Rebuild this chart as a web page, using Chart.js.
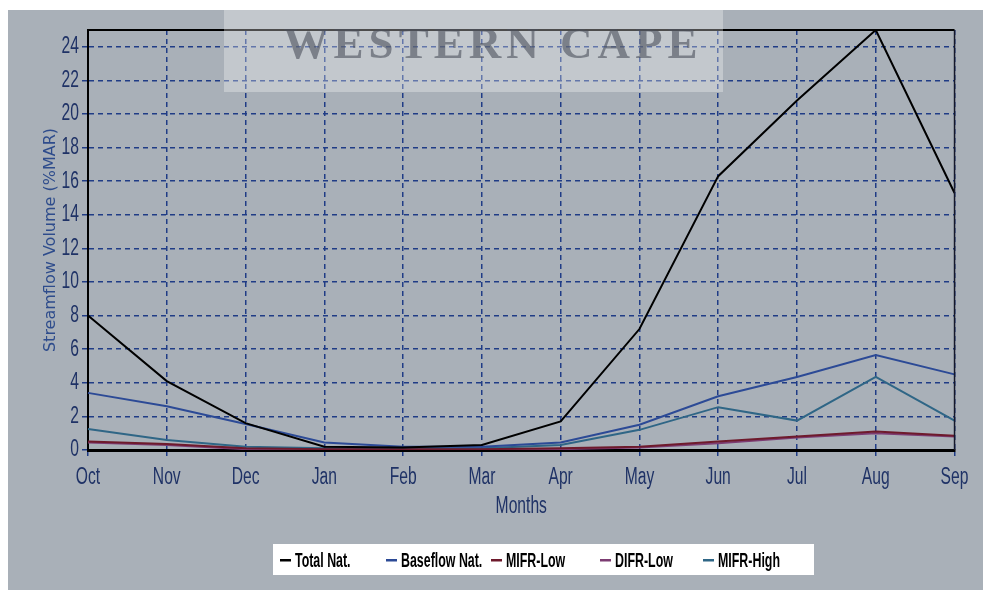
<!DOCTYPE html>
<html>
<head>
<meta charset="utf-8">
<script src="https://cdn.jsdelivr.net/npm/chart.js@4.4.1/dist/chart.umd.min.js"></script>
<style>
  html, body { margin: 0; padding: 0; background: #ffffff; }
  #c { display: block; }
</style>
</head>
<body>
<canvas id="c" width="983" height="590"></canvas>
<script>
// Monthly streamflow volumes, % of mean annual runoff
const months = ["Oct", "Nov", "Dec", "Jan", "Feb", "Mar", "Apr", "May", "Jun", "Jul", "Aug", "Sep"];
const totalNat    = [8.0, 4.1, 1.6, 0.2, 0.15, 0.3, 1.7, 7.2, 16.3, 20.8, 25.0, 15.3];
const baseflowNat = [3.4, 2.6, 1.55, 0.45, 0.2, 0.2, 0.45, 1.5, 3.2, 4.35, 5.65, 4.5];
const mifrLow     = [0.5, 0.35, 0.1, 0.05, 0.05, 0.05, 0.1, 0.2, 0.5, 0.8, 1.1, 0.85];
const difrLow     = [0.45, 0.3, 0.05, 0.0, 0.0, 0.0, 0.05, 0.15, 0.4, 0.75, 1.0, 0.8];
const mifrHigh    = [1.25, 0.6, 0.2, 0.1, 0.1, 0.1, 0.3, 1.2, 2.55, 1.75, 4.35, 1.75];
const yTicks = [0, 2, 4, 6, 8, 10, 12, 14, 16, 18, 20, 22, 24];

const navy = "#1f3266";
const gridBlue = "#203c86";
const narrowFamily = "'Liberation Sans', Arial, sans-serif";

function series(label, data, color) {
  return { label, data, borderColor: color, backgroundColor: color, borderWidth: 2,
           pointRadius: 0, tension: 0, fill: false };
}

// Axis and legend lettering is set in a horizontally compressed face
const narrowText = {
  id: "narrowText",
  beforeInit(chart) {
    const ctx = chart.ctx;
    const nativeFill = CanvasRenderingContext2D.prototype.fillText;
    ctx.fillText = function (text, x, y, maxWidth) {
      if (this.font.indexOf("Liberation Sans") !== -1) {
        const k = this.font.indexOf("bold") !== -1 || this.font.indexOf("700") !== -1 ? 0.62 : 0.68;
        const w = this.measureText(text).width * k;
        maxWidth = maxWidth === undefined ? w : Math.min(maxWidth, w);
      }
      return maxWidth === undefined ? nativeFill.call(this, text, x, y)
                                    : nativeFill.call(this, text, x, y, maxWidth);
    };
  }
};

// Grey panel, frame, legend strip and the banner across the top
const legendDashX = [280, 386, 491, 600, 703];
const decor = {
  id: "decor",
  beforeDraw(chart) {
    const ctx = chart.ctx;
    ctx.save();
    ctx.fillStyle = "#ffffff";
    ctx.fillRect(0, 0, chart.width, chart.height);
    ctx.fillStyle = "#a9b0b8";
    ctx.fillRect(8, 10, chart.width - 8, chart.height - 10);
    ctx.restore();
  },
  afterDatasetsDraw(chart) {
    const { ctx, chartArea: a } = chart;
    ctx.save();
    ctx.strokeStyle = "#000000";
    ctx.lineWidth = 2;
    ctx.beginPath();
    ctx.moveTo(a.left, a.top); ctx.lineTo(a.right, a.top);
    ctx.stroke();
    ctx.strokeStyle = "#15182a";
    ctx.lineWidth = 1.5;
    ctx.beginPath();
    ctx.moveTo(a.right, a.top); ctx.lineTo(a.right, a.bottom);
    ctx.stroke();
    ctx.restore();
  },
  afterDraw(chart) {
    const ctx = chart.ctx;
    ctx.save();
    // legend strip
    ctx.fillStyle = "#ffffff";
    ctx.fillRect(273, 544, 541, 31);
    ctx.font = "bold 20px " + narrowFamily;
    ctx.textAlign = "left";
    ctx.textBaseline = "middle";
    chart.data.datasets.forEach((ds, i) => {
      const x = legendDashX[i];
      ctx.fillStyle = ds.borderColor;
      ctx.fillRect(x, 559, 11, 2.5);
      ctx.fillStyle = "#000000";
      ctx.fillText(ds.label, x + 15, 561);
    });
    // banner
    ctx.fillStyle = "rgba(255,255,255,0.30)";
    ctx.fillRect(224, 10, 499, 82);
    ctx.font = "bold 45px 'Liberation Serif', 'DejaVu Serif', serif";
    ctx.letterSpacing = "5px";
    ctx.textAlign = "center";
    ctx.textBaseline = "middle";
    ctx.filter = "blur(0.6px)";
    ctx.fillStyle = "rgba(75,80,92,0.6)";
    ctx.fillText("WESTERN CAPE", 493, 46);
    ctx.restore();
  }
};

const chart = new Chart(document.getElementById("c"), {
  type: "line",
  data: {
    labels: months,
    datasets: [
      series("Total Nat.", totalNat, "#000000"),
      series("Baseflow Nat.", baseflowNat, "#2c4a96"),
      series("MIFR-Low", mifrLow, "#6e1a2c"),
      series("DIFR-Low", difrLow, "#7c3c72"),
      series("MIFR-High", mifrHigh, "#2f6686")
    ]
  },
  options: {
    responsive: false,
    animation: false,
    layout: { padding: { left: 0, right: 22, top: 30, bottom: 70 } },
    plugins: { legend: { display: false }, tooltip: { enabled: false } },
    scales: {
      x: {
        offset: false,
        grid: { color: gridBlue, lineWidth: 1.5, tickLength: 6,
                tickColor: gridBlue, tickBorderDash: [], drawOnChartArea: true },
        border: { display: true, color: "#000000", width: 3, dash: [5, 4] },
        ticks: { color: navy, padding: 8, font: { family: narrowFamily, size: 23 } },
        title: { display: true, text: "Months", color: navy, padding: { top: 0, bottom: 0 },
                 font: { family: narrowFamily, size: 23 } },
        afterFit(scale) { scale.height = 70; }
      },
      y: {
        min: 0,
        max: 25,
        grid: { color: gridBlue, lineWidth: 1.5, tickLength: 6,
                tickColor: gridBlue, tickBorderDash: [] },
        border: { display: true, color: "#000000", width: 2, dash: [5, 4] },
        ticks: { color: navy, padding: 3, font: { family: narrowFamily, size: 23 } },
        afterBuildTicks(scale) {
          scale.ticks = yTicks.map(v => ({ value: v }));
        },
        title: { display: true, text: "Streamflow Volume (%MAR)", color: "#2e4c8c",
                 padding: { top: 41, bottom: 0 },
                 font: { family: "'DejaVu Sans', sans-serif", size: 16 } },
        afterFit(scale) { scale.width = 88; }
      }
    }
  },
  plugins: [narrowText, decor]
});
</script>
</body>
</html>
